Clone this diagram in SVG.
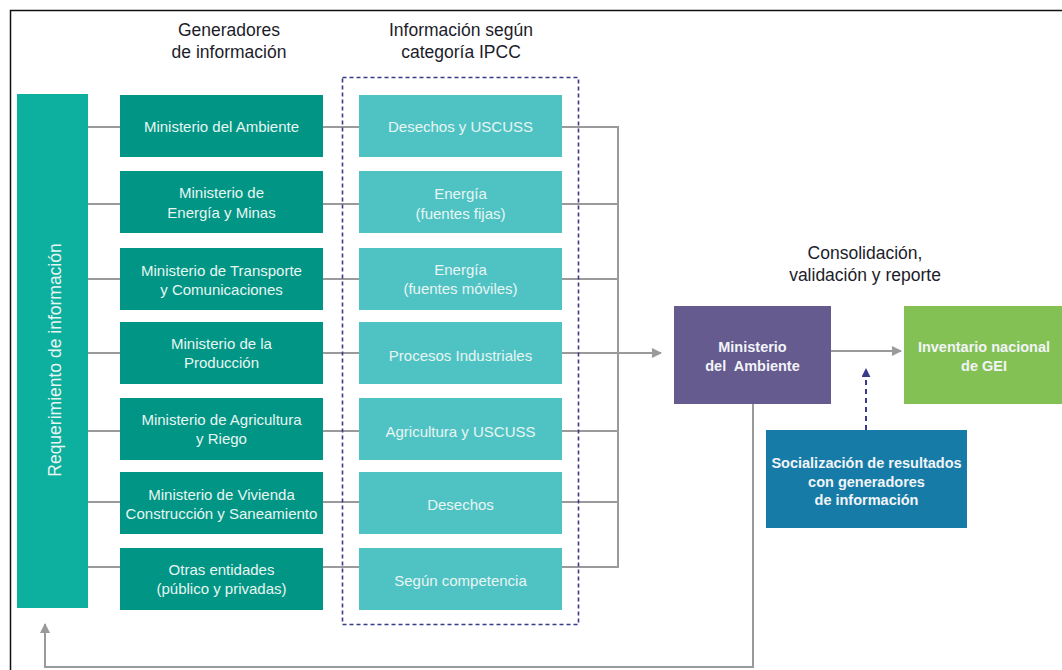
<svg xmlns="http://www.w3.org/2000/svg" width="1062" height="670" viewBox="0 0 1062 670">
<style>
.t{font-family:"Liberation Sans",Arial,sans-serif;font-size:17.5px;fill:#1c1c2a;text-anchor:middle}
.b{font-family:"Liberation Sans",Arial,sans-serif;font-size:15px;fill:#E8F5F2;text-anchor:middle;dominant-baseline:central}
.bb{font-family:"Liberation Sans",Arial,sans-serif;font-size:14.5px;font-weight:bold;fill:#F2F4F8;text-anchor:middle;dominant-baseline:central}
.gen{fill:#009585}
.cat{fill:#4FC3C4}
.ln{stroke:#9A9A9C;stroke-width:2;fill:none}
</style>
<defs>
<marker id="ag" viewBox="0 0 10 10" refX="9" refY="5" markerWidth="10" markerHeight="10" markerUnits="userSpaceOnUse" orient="auto"><path d="M0,0 L10,5 L0,10 z" fill="#9A9A9C"/></marker>
<marker id="an" viewBox="0 0 10 10" refX="9" refY="5" markerWidth="9" markerHeight="9" markerUnits="userSpaceOnUse" orient="auto"><path d="M0,0 L10,5 L0,10 z" fill="#3A3A8C"/></marker>
</defs>
<rect x="0" y="0" width="1062" height="670" fill="#fff"/>
<rect x="10.5" y="10.5" width="1100" height="700" fill="none" stroke="#111" stroke-width="1.5"/>
<text class="t" x="229" y="36">Generadores</text>
<text class="t" x="229" y="58">de información</text>
<text class="t" x="461" y="36">Información según</text>
<text class="t" x="461" y="58">categoría IPCC</text>
<text class="t" x="865" y="259">Consolidación,</text>
<text class="t" x="865" y="281">validación y reporte</text>
<g id="connectors">
<path class="ln" d="M88,127H120M88,204H120M88,279H120M88,353H120M88,431H120M88,502H120M88,567H120"/>
<path class="ln" d="M323,127H359M323,204H359M323,279H359M323,353H359M323,431H359M323,502H359M323,567H359"/>
<path class="ln" d="M562,127H618V567H562M562,204H618M562,279H618M562,431H618M562,502H618"/>
<path class="ln" d="M562,353H661" marker-end="url(#ag)"/>
<path class="ln" d="M831,351H901" marker-end="url(#ag)"/>
<path class="ln" d="M753,404V667H45V624" marker-end="url(#ag)"/>
<path d="M866,430V369" stroke="#3A3A8C" stroke-width="2" stroke-dasharray="5,4" fill="none" marker-end="url(#an)"/>
</g>
<rect x="342.5" y="77.5" width="236" height="547" fill="none" stroke="#3A3A8C" stroke-width="1.6" stroke-dasharray="4,3"/>
<g id="req"><rect x="17" y="94" width="71" height="514" fill="#0DB09E"/>
<text class="b" style="font-size:17.5px" transform="translate(55,360) rotate(-90)">Requerimiento de información</text></g>
<g id="g1"><rect class="gen" x="120" y="95" width="203" height="62"/><text class="b" x="221.5" y="126">Ministerio del Ambiente</text></g>
<g id="g2"><rect class="gen" x="120" y="171" width="203" height="62"/><text class="b" x="221.5" y="192">Ministerio de</text><text class="b" x="221.5" y="212">Energía y Minas</text></g>
<g id="g3"><rect class="gen" x="120" y="248" width="203" height="62"/><text class="b" x="221.5" y="270">Ministerio de Transporte</text><text class="b" x="221.5" y="289">y Comunicaciones</text></g>
<g id="g4"><rect class="gen" x="120" y="322" width="203" height="62"/><text class="b" x="221.5" y="343">Ministerio de la</text><text class="b" x="221.5" y="362">Producción</text></g>
<g id="g5"><rect class="gen" x="120" y="398" width="203" height="62"/><text class="b" x="221.5" y="419">Ministerio de Agricultura</text><text class="b" x="221.5" y="438">y Riego</text></g>
<g id="g6"><rect class="gen" x="120" y="472" width="203" height="62"/><text class="b" x="221.5" y="494">Ministerio de Vivienda</text><text class="b" x="221.5" y="513">Construcción y Saneamiento</text></g>
<g id="g7"><rect class="gen" x="120" y="548" width="203" height="62"/><text class="b" x="221.5" y="569">Otras entidades</text><text class="b" x="221.5" y="588">(público y privadas)</text></g>
<g id="c1"><rect class="cat" x="359" y="95" width="203" height="62"/><text class="b" x="460.5" y="126">Desechos y USCUSS</text></g>
<g id="c2"><rect class="cat" x="359" y="171" width="203" height="62"/><text class="b" x="460.5" y="193">Energía</text><text class="b" x="460.5" y="213">(fuentes fijas)</text></g>
<g id="c3"><rect class="cat" x="359" y="248" width="203" height="62"/><text class="b" x="460.5" y="269">Energía</text><text class="b" x="460.5" y="288">(fuentes móviles)</text></g>
<g id="c4"><rect class="cat" x="359" y="322" width="203" height="62"/><text class="b" x="460.5" y="355">Procesos Industriales</text></g>
<g id="c5"><rect class="cat" x="359" y="398" width="203" height="62"/><text class="b" x="460.5" y="431">Agricultura y USCUSS</text></g>
<g id="c6"><rect class="cat" x="359" y="472" width="203" height="62"/><text class="b" x="460.5" y="504">Desechos</text></g>
<g id="c7"><rect class="cat" x="359" y="548" width="203" height="62"/><text class="b" x="460.5" y="580">Según competencia</text></g>
<g id="minam"><rect x="674" y="306" width="157" height="98" fill="#655B8F"/><text class="bb" x="752.5" y="347">Ministerio</text><text class="bb" x="752.5" y="366" xml:space="preserve">del  Ambiente</text></g>
<g id="inv"><rect x="904" y="306" width="160" height="98" fill="#84C155"/><text class="bb" x="984" y="347">Inventario nacional</text><text class="bb" x="984" y="366">de GEI</text></g>
<g id="soc"><rect x="766" y="430" width="201" height="98" fill="#167CA7"/><text class="bb" x="866.5" y="463">Socialización de resultados</text><text class="bb" x="866.5" y="482">con generadores</text><text class="bb" x="866.5" y="500">de información</text></g>
</svg>
